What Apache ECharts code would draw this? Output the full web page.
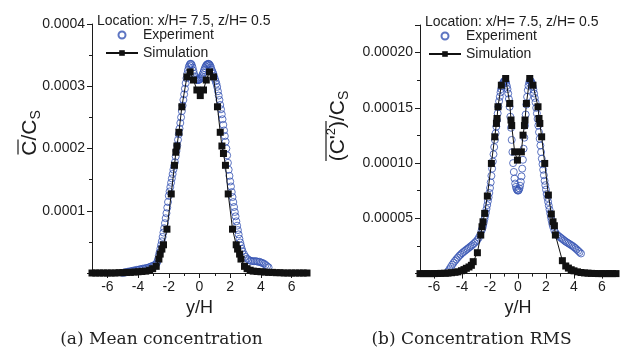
<!DOCTYPE html>
<html>
<head>
<meta charset="utf-8">
<script src="https://cdn.jsdelivr.net/npm/echarts@6/dist/echarts.min.js"></script>
<style>
  html, body { margin: 0; padding: 0; background: #fff; }
  #chart { width: 623px; height: 350px; }
</style>
</head>
<body>
<div id="chart"></div>
<script>
// y/H positions carrying a labelled tick
const xTickValues = [-6, -4, -2, 0, 2, 4, 6];

// (a) mean concentration, values in units of 1e-4  [y/H, C/Cs]
const meanExp = [
  [-5.0,0.00],[-4.9,0.01],[-4.8,0.01],[-4.7,0.02],[-4.6,0.02],[-4.5,0.03],[-4.4,0.03],[-4.3,0.04],
  [-4.2,0.04],[-4.1,0.05],[-4.0,0.05],[-3.9,0.06],[-3.8,0.06],[-3.7,0.07],[-3.6,0.07],[-3.5,0.08],
  [-3.4,0.08],[-3.3,0.09],[-3.2,0.10],[-3.1,0.11],[-3.0,0.12],[-2.9,0.13],[-2.8,0.15],
  [-2.75,0.18],[-2.7,0.22],[-2.65,0.28],[-2.6,0.33],[-2.55,0.39],[-2.5,0.45],[-2.45,0.51],[-2.4,0.58],
  [-2.35,0.65],[-2.3,0.72],[-2.25,0.80],[-2.2,0.88],[-2.15,0.96],[-2.1,1.05],[-2.05,1.14],[-2.0,1.24],
  [-1.95,1.31],[-1.9,1.38],[-1.85,1.45],[-1.8,1.52],[-1.75,1.59],[-1.7,1.66],[-1.65,1.72],[-1.6,1.78],
  [-1.55,1.87],[-1.5,1.96],[-1.45,2.05],[-1.4,2.14],[-1.35,2.23],[-1.3,2.32],[-1.25,2.41],[-1.2,2.50],
  [-1.15,2.60],[-1.1,2.69],[-1.05,2.78],[-1.0,2.87],[-0.95,2.96],[-0.9,3.05],[-0.85,3.13],[-0.8,3.20],
  [-0.75,3.26],[-0.7,3.31],[-0.65,3.34],[-0.6,3.36],[-0.55,3.36],[-0.5,3.34],[-0.45,3.30],[-0.4,3.25],
  [-0.35,3.20],[-0.3,3.16],[-0.25,3.13],[-0.2,3.11],[-0.15,3.10],[-0.1,3.10],[-0.05,3.10],[0.0,3.11],
  [0.05,3.12],[0.1,3.14],[0.15,3.16],[0.2,3.19],[0.25,3.22],[0.3,3.26],[0.35,3.29],[0.4,3.32],
  [0.45,3.34],[0.5,3.35],[0.55,3.36],[0.6,3.36],[0.65,3.35],[0.7,3.33],[0.75,3.30],[0.8,3.26],
  [0.85,3.23],[0.9,3.20],[0.95,3.16],[1.0,3.12],[1.05,3.08],[1.1,3.04],[1.15,2.99],[1.2,2.92],
  [1.25,2.85],[1.3,2.78],[1.35,2.70],[1.4,2.63],[1.45,2.55],[1.5,2.47],[1.55,2.38],[1.6,2.29],
  [1.65,2.20],[1.7,2.11],[1.75,2.00],[1.8,1.89],[1.85,1.77],[1.9,1.66],[1.95,1.56],[2.0,1.47],
  [2.05,1.39],[2.1,1.30],[2.15,1.22],[2.2,1.14],[2.25,1.06],[2.3,0.98],[2.35,0.91],[2.4,0.83],
  [2.45,0.76],[2.5,0.69],[2.55,0.62],[2.6,0.55],[2.65,0.49],[2.7,0.44],[2.75,0.39],
  [2.8,0.35],[2.9,0.30],[3.0,0.26],[3.1,0.23],[3.2,0.21],[3.3,0.20],[3.4,0.19],[3.5,0.19],
  [3.6,0.19],[3.7,0.19],[3.8,0.18],[3.9,0.18],[4.0,0.17],[4.1,0.16],[4.2,0.15],[4.3,0.13],
  [4.4,0.11],[4.5,0.09]
];
const meanSim = [
  [-7.0,0.0],[-6.75,0.0],[-6.5,0.0],[-6.25,0.0],[-6.0,0.0],[-5.75,0.0],[-5.5,0.0],[-5.25,0.005],
  [-5.0,0.005],[-4.75,0.01],[-4.5,0.01],[-4.25,0.015],[-4.0,0.02],[-3.75,0.025],[-3.5,0.03],[-3.25,0.045],
  [-3.05,0.07],[-2.82,0.107],[-2.645,0.224],[-2.56,0.304],[-2.45,0.384],[-2.345,0.453],[-2.12,0.704],
  [-1.84,1.27],[-1.63,1.73],[-1.54,1.94],[-1.47,2.04],[-1.34,2.26],[-1.15,2.67],[-0.82,3.15],
  [-0.61,3.23],[-0.39,3.10],[-0.17,2.94],[0.05,2.85],[0.26,2.94],[0.44,3.10],[0.65,3.23],[0.91,3.15],
  [1.17,2.67],[1.35,2.26],[1.46,2.04],[1.56,1.92],[1.69,1.73],[1.87,1.27],[2.15,0.704],[2.39,0.453],
  [2.48,0.384],[2.61,0.304],[2.70,0.224],[2.93,0.107],[3.1,0.07],[3.3,0.045],[3.5,0.03],[3.75,0.025],
  [4.0,0.02],[4.25,0.015],[4.5,0.01],[4.75,0.01],[5.0,0.005],[5.25,0.005],[5.5,0.0],[5.75,0.0],
  [6.0,0.0],[6.25,0.0],[6.5,0.0],[6.75,0.0],[7.0,0.0]
];

// (b) concentration RMS, values in units of 1e-5  [y/H, C'/Cs]
const rmsExp = [
  [-5.0,0.2],[-4.9,0.4],[-4.8,0.6],[-4.7,0.8],[-4.6,0.98],[-4.5,1.15],[-4.4,1.3],[-4.3,1.45],
  [-4.2,1.6],[-4.1,1.72],[-4.0,1.85],[-3.9,1.95],[-3.8,2.05],[-3.7,2.15],[-3.6,2.25],[-3.5,2.35],
  [-3.4,2.45],[-3.3,2.55],[-3.2,2.66],[-3.1,2.78],[-3.0,2.9],[-2.9,3.05],[-2.8,3.25],[-2.7,3.5],
  [-2.6,3.9],
  [-2.55,4.1],[-2.5,4.3],[-2.45,4.6],[-2.4,4.9],[-2.35,5.2],[-2.3,5.5],[-2.25,5.85],[-2.2,6.2],
  [-2.15,6.55],[-2.1,6.9],[-2.05,7.3],[-2.0,7.75],[-1.95,8.25],[-1.9,8.85],[-1.85,9.5],[-1.8,10.15],
  [-1.75,10.8],[-1.7,11.45],[-1.65,12.1],[-1.6,12.7],[-1.55,13.3],[-1.5,13.9],[-1.45,14.5],[-1.4,15.1],
  [-1.35,15.6],[-1.3,16.0],[-1.25,16.4],[-1.2,16.7],[-1.15,16.95],[-1.1,17.15],[-1.05,17.3],[-1.0,17.4],
  [-0.95,17.45],[-0.9,17.4],[-0.85,17.25],[-0.8,17.0],[-0.75,16.7],[-0.7,16.3],[-0.65,15.8],[-0.6,15.1],
  [-0.55,14.2],[-0.5,13.2],[-0.45,12.1],[-0.4,11.0],[-0.35,10.0],[-0.3,9.2],[-0.25,8.6],[-0.2,8.15],
  [-0.15,7.85],[-0.1,7.65],[-0.05,7.55],[0.0,7.5],[0.05,7.55],[0.1,7.7],[0.15,7.95],[0.2,8.3],
  [0.25,8.8],[0.3,9.5],[0.35,10.3],[0.4,11.3],[0.45,12.3],[0.5,13.4],[0.55,14.4],[0.6,15.3],
  [0.65,16.0],[0.7,16.6],[0.75,17.0],[0.8,17.3],[0.85,17.45],[0.9,17.45],[0.95,17.35],[1.0,17.2],
  [1.05,16.95],[1.1,16.65],[1.15,16.3],[1.2,15.9],[1.25,15.5],[1.3,15.0],[1.35,14.5],[1.4,14.0],
  [1.45,13.4],[1.5,12.8],[1.55,12.2],[1.6,11.6],[1.65,11.0],[1.7,10.4],[1.75,9.9],[1.8,9.4],
  [1.85,8.9],[1.9,8.4],[1.95,8.0],[2.0,7.6],[2.05,7.2],[2.1,6.85],[2.15,6.5],[2.2,6.15],
  [2.25,5.8],[2.3,5.45],[2.35,5.1],[2.4,4.8],[2.45,4.5],[2.5,4.25],
  [2.6,3.9],[2.7,3.65],[2.8,3.5],[2.9,3.4],[3.0,3.3],[3.1,3.2],[3.2,3.1],[3.3,3.0],
  [3.4,2.9],[3.5,2.82],[3.6,2.74],[3.7,2.66],[3.8,2.58],[3.9,2.5],[4.0,2.4],[4.1,2.3],
  [4.2,2.18],[4.3,2.06],[4.4,1.94],[4.5,1.82]
];
const rmsSim = [
  [-7.0,0],[-6.75,0],[-6.5,0],[-6.25,0],[-6.0,0],[-5.75,0.01],[-5.5,0.02],[-5.25,0.03],
  [-5.0,0.05],[-4.75,0.08],[-4.5,0.12],[-4.3,0.16],[-4.04,0.26],[-3.86,0.36],[-3.69,0.48],[-3.5,0.6],
  [-3.33,0.75],[-3.2,1.08],[-2.9,1.89],[-2.66,3.49],[-2.57,4.24],[-2.5,4.69],[-2.38,5.45],[-2.19,7.02],
  [-1.90,9.97],[-1.66,12.38],[-1.54,13.59],[-1.50,14.04],[-1.43,15.1],[-1.19,17.05],[-0.88,17.66],
  [-0.59,15.4],[-0.50,13.9],[-0.45,13.4],[-0.24,11.02],[-0.04,10.27],[0.24,11.02],[0.36,12.53],
  [0.46,13.4],[0.50,13.9],[0.60,15.4],[0.84,17.66],[1.07,17.05],[1.43,15.1],[1.50,14.04],[1.56,13.59],
  [1.69,12.38],[1.91,9.97],[2.17,7.11],[2.38,5.39],[2.50,4.69],[2.60,4.33],[2.67,3.49],[3.17,1.17],
  [3.41,0.69],[3.6,0.5],[3.8,0.35],[4.0,0.25],[4.25,0.16],[4.5,0.1],[4.75,0.06],[5.0,0.04],
  [5.25,0.02],[5.5,0.01],[5.75,0],[6.0,0],[6.25,0],[6.5,0],[6.75,0],[7.0,0]
];

const FONT = '"Liberation Sans", Arial, sans-serif';
const INK = '#1c1c1c';
const BLUE = '#3453b3';

const chart = echarts.init(document.getElementById('chart'), null, { renderer: 'canvas' });

// main x axis (labels + long ticks) and a companion axis for the short ticks
function xAxes(gridIndex) {
  return [
    {
      type: 'value', gridIndex, position: 'bottom', min: -7, max: 7, interval: 1,
      axisLine: { show: true, onZero: false, lineStyle: { color: INK, width: 1 } },
      axisTick: { show: true, length: 5, customValues: xTickValues, lineStyle: { color: INK } },
      axisLabel: { customValues: xTickValues, color: INK, fontFamily: FONT, fontSize: 14, margin: 7 },
      splitLine: { show: false },
      name: 'y/H', nameLocation: 'middle', nameGap: 23,
      nameTextStyle: { fontFamily: FONT, fontSize: 18, color: INK }
    },
    {
      type: 'value', gridIndex, position: 'bottom', min: -7, max: 7, interval: 1,
      axisLine: { show: false, onZero: false },
      axisTick: { show: true, length: 3, lineStyle: { color: INK } },
      axisLabel: { show: false },
      splitLine: { show: false }
    }
  ];
}

function yAxis(gridIndex, max, interval, unit, digits) {
  return {
    type: 'value', gridIndex, position: 'left', min: 0, max, interval,
    axisLine: { show: true, onZero: false, lineStyle: { color: INK, width: 1 } },
    axisTick: { show: true, length: 5, lineStyle: { color: INK } },
    minorTick: { show: true, splitNumber: 2, length: 3, lineStyle: { color: INK } },
    axisLabel: {
      color: INK, fontFamily: FONT, fontSize: 14, margin: 7,
      formatter: v => (v === 0 || Math.abs(v / interval - Math.round(v / interval)) > 1e-6)
        ? '' : (v * unit).toFixed(digits)
    },
    splitLine: { show: false },
    minorSplitLine: { show: false }
  };
}

function expSeries(xi, yi, data) {
  return {
    name: 'Experiment', type: 'scatter', xAxisIndex: xi, yAxisIndex: yi, data,
    symbol: 'circle', symbolSize: 7,
    itemStyle: { color: 'rgba(255,255,255,0)', borderColor: BLUE, borderWidth: 1 },
    emphasis: { disabled: true }, z: 2
  };
}

function simSeries(xi, yi, data) {
  return {
    name: 'Simulation', type: 'line', xAxisIndex: xi, yAxisIndex: yi, data,
    symbol: 'rect', symbolSize: 7, showAllSymbol: true,
    itemStyle: { color: '#111' },
    lineStyle: { color: '#111', width: 1 },
    emphasis: { disabled: true }, z: 3
  };
}

function legend(left, top) {
  return {
    data: ['Experiment', 'Simulation'], orient: 'vertical', left, top,
    itemWidth: 32, itemHeight: 7, itemGap: 4, selectedMode: false,
    textStyle: { fontFamily: FONT, fontSize: 14, color: INK }
  };
}

function locationTitle(left, top) {
  return {
    text: 'Location: x/H= 7.5, z/H= 0.5', left, top, padding: 0,
    textStyle: { fontFamily: FONT, fontSize: 14, fontWeight: 'normal', color: INK }
  };
}

function caption(x, text) {
  return {
    type: 'text', x, y: 340,
    style: { text, fontFamily: '"DejaVu Serif", serif', fontSize: 17, fill: '#222',
      align: 'center', verticalAlign: 'middle' }
  };
}

const option = {
  animation: false,
  backgroundColor: '#fff',
  title: [locationTitle(97, 14), locationTitle(425, 15)],
  legend: [legend(100, 23), legend(423, 24)],
  grid: [
    { left: 92, top: 24, width: 215, height: 249 },
    { left: 420, top: 25, width: 196, height: 248.6 }
  ],
  xAxis: [...xAxes(0), ...xAxes(1)],
  yAxis: [yAxis(0, 4, 1, 1e-4, 4), yAxis(1, 22.5, 5, 1e-5, 5)],
  series: [
    expSeries(0, 0, meanExp),
    simSeries(0, 0, meanSim),
    expSeries(2, 1, rmsExp),
    simSeries(2, 1, rmsSim)
  ],
  graphic: [
    caption(161.5, '(a) Mean concentration'),
    caption(471.5, '(b) Concentration RMS'),
    {
      // mean axis title with overbar on the first C
      type: 'group', x: 30, y: 133, rotation: Math.PI / 2,
      children: [
        {
          type: 'text', x: 0, y: 0,
          style: {
            text: '{m|C/C}{s|S}', align: 'center', verticalAlign: 'middle',
            rich: {
              m: { fontFamily: FONT, fontSize: 21, fill: INK, lineHeight: 26 },
              s: { fontFamily: FONT, fontSize: 14, fill: INK, verticalAlign: 'bottom' }
            }
          }
        },
        { type: 'line', shape: { x1: -21.5, y1: -12, x2: -6.5, y2: -12 }, style: { stroke: INK, lineWidth: 1.2 } }
      ]
    },
    {
      // RMS axis title with overbar over (C'2)
      type: 'group', x: 338, y: 126, rotation: Math.PI / 2,
      children: [
        {
          type: 'text', x: 0, y: 0,
          style: {
            text: "{m|(C'}{p|2}{m|)/C}{s|S}", align: 'center', verticalAlign: 'middle',
            rich: {
              m: { fontFamily: FONT, fontSize: 21, fill: INK, lineHeight: 26 },
              p: { fontFamily: FONT, fontSize: 13, fill: INK, verticalAlign: 'top' },
              s: { fontFamily: FONT, fontSize: 14, fill: INK, verticalAlign: 'bottom' }
            }
          }
        },
        { type: 'line', shape: { x1: -35, y1: -12, x2: 5, y2: -12 }, style: { stroke: INK, lineWidth: 1.2 } }
      ]
    }
  ]
};

chart.setOption(option);
</script>
</body>
</html>
